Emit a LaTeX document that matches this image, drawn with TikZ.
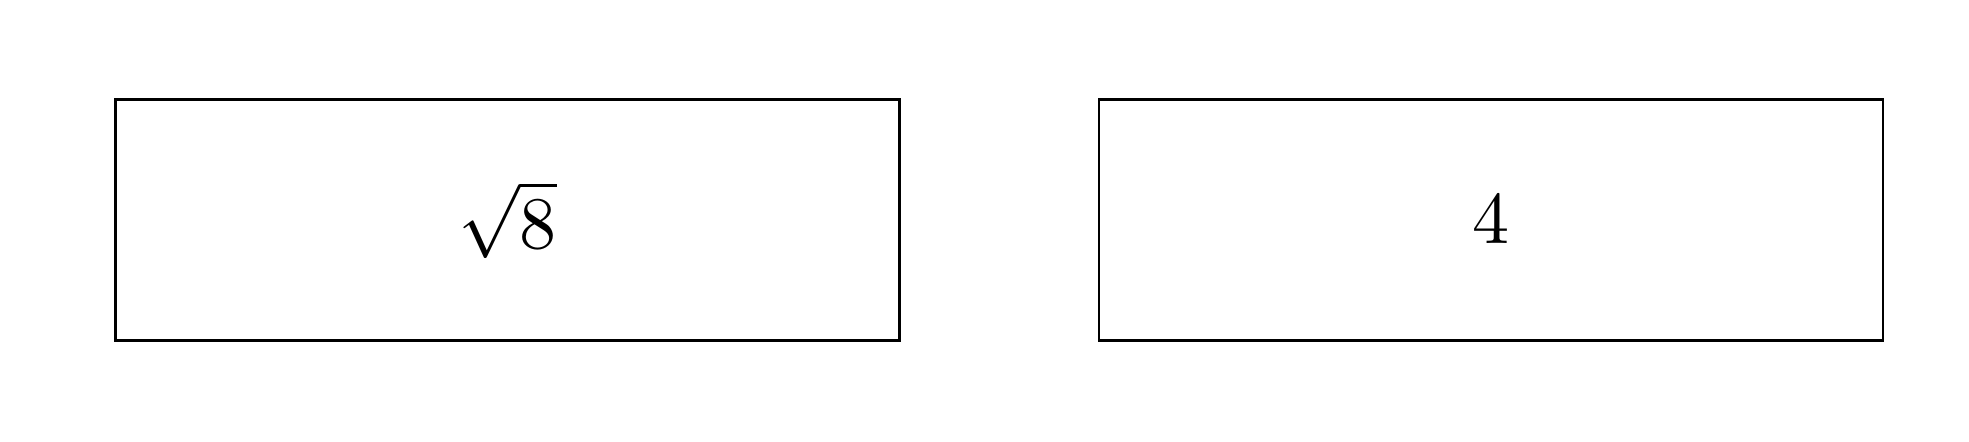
\documentclass[tikz,border=0pt]{standalone}
\begin{document}
\begin{tikzpicture}[x=0.1351pt,y=-0.1351pt,
  valbox/.style={draw,line width=0.35pt,minimum width=105.9pt,minimum height=32.6pt,inner sep=0pt,anchor=center,font=\fontsize{9.6pt}{11pt}\selectfont}]
\useasboundingbox (0,0) rectangle (1969,441);
\node[valbox] (a) at (507.5,220) {$\sqrt{8}$};
\node[valbox] (b) at (1491,220) {$4$};
\end{tikzpicture}
\end{document}
